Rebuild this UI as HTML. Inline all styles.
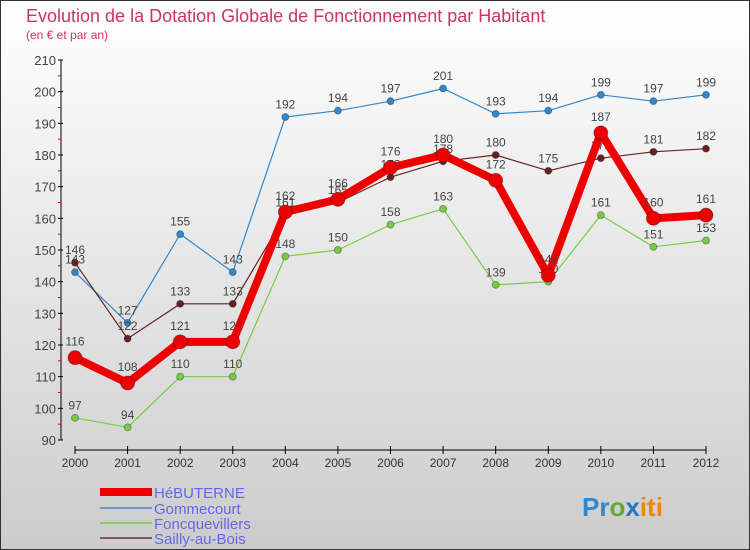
<!DOCTYPE html>
<html><head><meta charset="utf-8"><style>
body{margin:0}
svg{display:block;font-family:"Liberation Sans",sans-serif}
</style></head><body>
<svg id="c" width="750" height="550" xmlns="http://www.w3.org/2000/svg">
<defs><linearGradient id="bg" x1="0" y1="0" x2="0" y2="1"><stop offset="0" stop-color="#ffffff"/><stop offset="1" stop-color="#cccccc"/></linearGradient></defs>
<rect x="0.5" y="0.5" width="749" height="549" fill="url(#bg)" stroke="#333"/>
<text x="26" y="22" font-size="18" fill="#cc3366">Evolution de la Dotation Globale de Fonctionnement par Habitant</text>
<text x="26" y="39" font-size="12" fill="#cc3366">(en € et par an)</text>
<g id="axes"></g><g id="series"></g>
<g>
<rect x="100" y="488" width="52" height="8" fill="#ee0000"/>
<text x="154" y="498" font-size="15" fill="#6666ee">HéBUTERNE</text>
<line x1="100" y1="508" x2="152" y2="508" stroke="#6699cc" stroke-width="2"/>
<text x="154" y="514" font-size="15" fill="#6666ee">Gommecourt</text>
<line x1="100" y1="523" x2="152" y2="523" stroke="#88cc66" stroke-width="2"/>
<text x="154" y="529" font-size="15" fill="#6666ee">Foncquevillers</text>
<line x1="100" y1="538" x2="152" y2="538" stroke="#885555" stroke-width="2"/>
<text x="154" y="544" font-size="15" fill="#6666ee">Sailly-au-Bois</text>
</g>
<text x="582" y="516" font-size="26" font-weight="bold"><tspan fill="#3388cc">Pr</tspan><tspan fill="#66aa33">o</tspan><tspan fill="#2277cc">x</tspan><tspan fill="#ee8800">iti</tspan></text>
</svg>
<script>
const years=[2000,2001,2002,2003,2004,2005,2006,2007,2008,2009,2010,2011,2012];
const hebuterne=[116,108,121,121,162,166,176,180,172,142,187,160,161];
const gommecourt=[143,127,155,143,192,194,197,201,193,194,199,197,199];
const foncq=[97,94,110,110,148,150,158,163,139,140,161,151,153];
const sailly=[146,122,133,133,161,165,173,178,180,175,179,181,182];
const yTicks=[90,100,110,120,130,140,150,160,170,180,190,200,210];
const NS="http://www.w3.org/2000/svg";
const X=i=>75+i*(706-75)/(years.length-1);
const Y=v=>440-(v-90)*380/120;
function mk(t,a,p){const e=document.createElementNS(NS,t);for(const k in a)e.setAttribute(k,a[k]);p.appendChild(e);return e;}
const ax=document.getElementById('axes'),sg=document.getElementById('series');
let e=mk('line',{x1:61,y1:60,x2:61,y2:440,stroke:'#000'},ax);


e=mk('line',{x1:75,y1:450,x2:706,y2:450,stroke:'#000'},ax);


yTicks.forEach((v,i)=>{
 mk('line',{x1:58,y1:Y(v),x2:63,y2:Y(v),stroke:'#000'},ax);
 if(i<yTicks.length-1) mk('line',{x1:58,y1:Y(v+5),x2:61,y2:Y(v+5),stroke:'#ee0000'},ax);
 const t=mk('text',{x:56,y:Y(v)+5,'font-size':13,fill:'#444','text-anchor':'end'},ax);t.textContent=v;
 
 
});
years.forEach((y,i)=>{
 mk('line',{x1:X(i),y1:446,x2:X(i),y2:454,stroke:'#000'},ax);
 const t=mk('text',{x:X(i),y:467,'font-size':12,fill:'#333','text-anchor':'middle'},ax);t.textContent=y;
 
 
});
function series(data,color,w,r,name){
 const g=mk('g',{},sg);
 
 
 mk('polyline',{points:data.map((v,i)=>X(i)+','+Y(v)).join(' '),fill:'none',stroke:color,'stroke-width':w,'stroke-linejoin':'round'},g);
 data.forEach((v,i)=>{
  const c=mk('circle',{cx:X(i),cy:Y(v),r:r,fill:color,stroke:'rgba(0,0,0,0.3)','stroke-width':1},g);
  
  
  const t=mk('text',{x:X(i),y:Y(v)-r-5,'font-size':12,fill:'#444','text-anchor':'middle'},g);t.textContent=v;
  
  
 });
}
series(gommecourt,'#3388cc',1.2,3.5,'gommecourt');
series(foncq,'#77cc44',1.2,3.5,'foncquevillers');
series(sailly,'#662222',1.2,3.5,'sailly');
series(hebuterne,'#ee0000',8,7,'hebuterne');
</script>
</body></html>
